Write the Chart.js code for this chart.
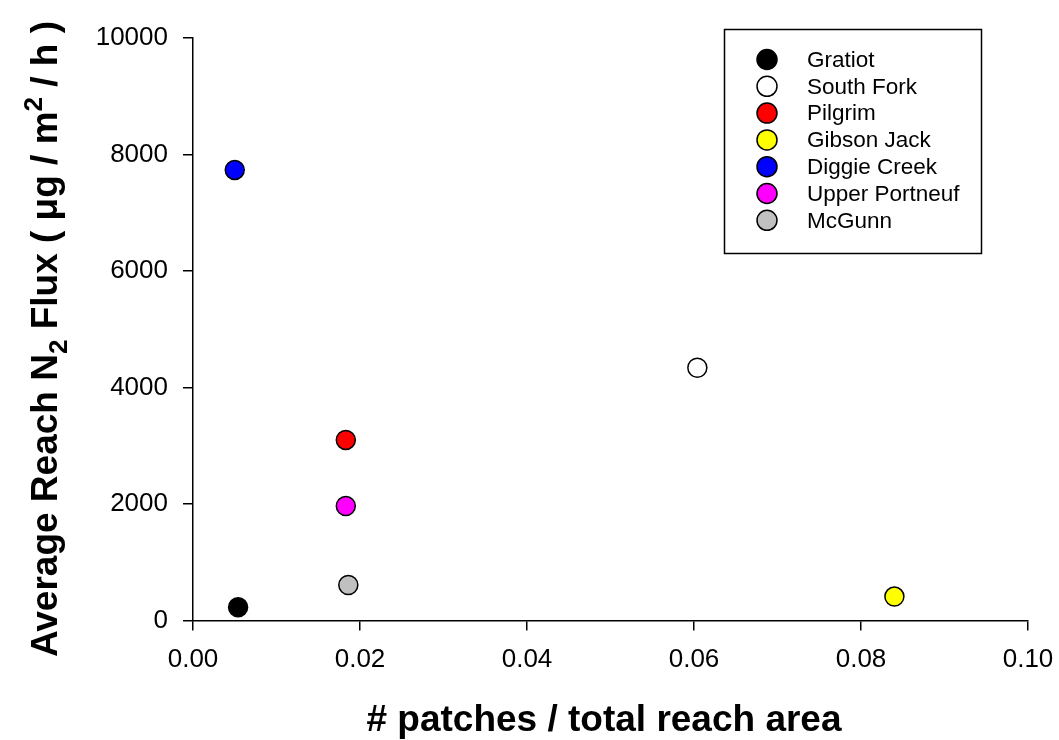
<!DOCTYPE html>
<html>
<head>
<meta charset="utf-8">
<script src="https://cdn.jsdelivr.net/npm/chart.js@4.4.1/dist/chart.umd.min.js"></script>
<style>
  html, body { margin: 0; padding: 0; background: #fff; }
  #wrap { width: 1059px; height: 740px; }
</style>
</head>
<body>
<div id="wrap"><canvas id="fluxChart" width="1059" height="740"></canvas></div>
<script>
// datos
const sites = ['Gratiot', 'South Fork', 'Pilgrim', 'Gibson Jack', 'Diggie Creek', 'Upper Portneuf', 'McGunn'];
const patchDensity = [0.0054, 0.0604, 0.0183, 0.0840, 0.0050, 0.0183, 0.0186];
const n2Flux = [227, 4340, 3100, 410, 7735, 1965, 610];
const xTicks = [0, 0.02, 0.04, 0.06, 0.08, 0.10];
const yTicks = [0, 2000, 4000, 6000, 8000, 10000];

const siteColors = ['#000000', '#ffffff', '#ff0000', '#ffff00', '#0000ff', '#ff00ff', '#c0c0c0'];

const datasets = sites.map((name, i) => ({
  label: name,
  data: [{ x: patchDensity[i], y: n2Flux[i] }],
  backgroundColor: siteColors[i],
  borderColor: '#000',
  borderWidth: 1.5,
  pointRadius: 9.5,
  pointHoverRadius: 9.5
}));

// leyenda dentro de un recuadro
const boxLegend = {
  id: 'boxLegend',
  afterDraw(chart) {
    const c = chart.ctx;
    c.save();
    c.strokeStyle = '#000';
    c.lineWidth = 1.5;
    c.strokeRect(724.5, 29.5, 257, 224);
    c.font = '22.5px "Liberation Sans", Arial, sans-serif';
    c.textBaseline = 'middle';
    sites.forEach((name, i) => {
      const y = 59.5 + i * 26.8;
      c.beginPath();
      c.arc(767, y, 10, 0, Math.PI * 2);
      c.fillStyle = siteColors[i];
      c.fill();
      c.lineWidth = 1.5;
      c.stroke();
      c.fillStyle = '#000';
      c.fillText(name, 807, y + 1);
    });
    c.restore();
  }
};

// títulos de ejes (con subíndice y superíndice)
const axisTitles = {
  id: 'axisTitles',
  afterDraw(chart) {
    const c = chart.ctx;
    c.save();
    c.fillStyle = '#000';
    c.font = 'bold 37px "Liberation Sans", Arial, sans-serif';
    c.textAlign = 'center';
    c.textBaseline = 'alphabetic';
    c.fillText('# patches / total reach area', 604, 731);

    const big = 'bold 37px "Liberation Sans", Arial, sans-serif';
    const small = 'bold 26px "Liberation Sans", Arial, sans-serif';
    const parts = [
      { t: 'Average Reach N', f: big, dy: 0 },
      { t: '2', f: small, dy: 10 },
      { t: ' Flux ( \u03bcg / m', f: big, dy: 0 },
      { t: '2', f: small, dy: -15 },
      { t: ' / h )', f: big, dy: 0 }
    ];
    let total = 0;
    parts.forEach(p => { c.font = p.f; p.w = c.measureText(p.t).width; total += p.w; });
    c.translate(57, 339);
    c.rotate(-Math.PI / 2);
    c.textAlign = 'left';
    let x = -total / 2;
    parts.forEach(p => {
      c.font = p.f;
      c.fillText(p.t, x, p.dy);
      x += p.w;
    });
    c.restore();
  }
};

new Chart(document.getElementById('fluxChart'), {
  type: 'scatter',
  data: { datasets },
  options: {
    responsive: false,
    animation: false,
    layout: { padding: { top: 38, right: 31, left: 0, bottom: 0 } },
    plugins: { legend: { display: false }, tooltip: { enabled: false } },
    scales: {
      x: {
        type: 'linear',
        min: 0,
        max: 0.1,
        afterFit: s => { s.height = 119.5; s.paddingLeft = 0; s.paddingRight = 0; },
        afterBuildTicks: s => { s.ticks = xTicks.map(v => ({ value: v })); },
        border: { display: true, color: '#000', width: 1.5 },
        grid: { display: true, drawOnChartArea: false, drawTicks: true, tickLength: 10, color: '#000', lineWidth: 1.5 },
        ticks: {
          color: '#000',
          padding: 14,
          maxRotation: 0,
          font: { family: '"Liberation Sans", Arial', size: 26 },
          callback: v => v.toFixed(2)
        }
      },
      y: {
        type: 'linear',
        min: 0,
        max: 10000,
        afterFit: s => { s.width = 193; s.paddingTop = 0; s.paddingBottom = 0; },
        afterBuildTicks: s => { s.ticks = yTicks.map(v => ({ value: v })); },
        border: { display: true, color: '#000', width: 1.5 },
        grid: { display: true, drawOnChartArea: false, drawTicks: true, tickLength: 10, color: '#000', lineWidth: 1.5 },
        ticks: {
          color: '#000',
          padding: 15,
          font: { family: '"Liberation Sans", Arial', size: 26 },
          callback: v => String(v)
        }
      }
    }
  },
  plugins: [boxLegend, axisTitles]
});
</script>
</body>
</html>
